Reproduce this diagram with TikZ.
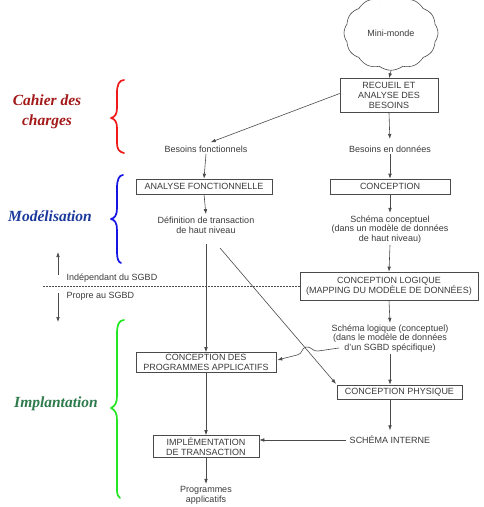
\documentclass[tikz,border=0pt]{standalone}
\usepackage{fontspec}
\setmainfont{Liberation Sans}
\newfontfamily\labelfont{Liberation Serif}
\usetikzlibrary{arrows.meta,shapes.symbols,calc}
\definecolor{txtgray}{HTML}{3A3A3A}
\definecolor{linegray}{HTML}{4A4A4A}
\definecolor{cahierred}{HTML}{A31818}
\definecolor{modblue}{HTML}{1C3A9C}
\definecolor{implgreen}{HTML}{2E7A4C}
\definecolor{bracered}{HTML}{F01818}
\definecolor{braceblue}{HTML}{1414E6}
\definecolor{bracegreen}{HTML}{22E622}
\tikzset{
  txt/.style={font=\fontsize{9}{9.7}\selectfont, text=txtgray, align=center, inner sep=1.5pt},
  box/.style={txt, draw=linegray, line width=0.6pt},
  arr/.style={-{Latex[length=5pt,width=3.6pt]}, draw=linegray, line width=0.6pt},
  plain/.style={draw=linegray, line width=0.6pt},
  phase/.style={font=\labelfont\bfseries\itshape\fontsize{15.5}{19.5}\selectfont, align=center, inner sep=0pt},
  brace/.style={line width=1.7pt, line cap=round, line join=round},
}
\begin{document}
\begin{tikzpicture}[x=1pt,y=-1pt]
\useasboundingbox (0,0) rectangle (483,507);
% cloud
\node[cloud, draw=linegray, line width=0.6pt, cloud puffs=12, cloud puff arc=75,
      minimum width=94pt, minimum height=60pt, txt] (cloud) at (391,33) {Mini-monde};
% boxes
\node[box, minimum width=98pt, minimum height=34pt] (recueil) at (389,95.5) {RECUEIL ET\\ANALYSE DES\\BESOINS};
\node[box, minimum width=136pt, minimum height=15pt] (analyse) at (204,186.5) {ANALYSE FONCTIONNELLE};
\node[box, minimum width=120pt, minimum height=15pt] (conception) at (390,186.5) {CONCEPTION};
\node[box, minimum width=178pt, minimum height=28pt] (logique) at (389,286) {CONCEPTION LOGIQUE\\(MAPPING DU MODÈLE DE DONNÉES)};
\node[box, minimum width=140pt, minimum height=20pt] (progs) at (206,362.5) {CONCEPTION DES\\PROGRAMMES APPLICATIFS};
\node[box, minimum width=125pt, minimum height=14pt] (physique) at (399.5,392) {CONCEPTION PHYSIQUE};
\node[box, minimum width=106pt, minimum height=22pt] (impl) at (206,446.5) {IMPLÉMENTATION\\DE TRANSACTION};
% text nodes
\node[txt] (bf) at (206,149) {Besoins fonctionnels};
\node[txt] (bd) at (390,149) {Besoins en données};
\node[txt] (def) at (206,225) {Définition de transaction\\de haut niveau};
\node[txt] (sc) at (390,229.5) {Schéma conceptuel\\(dans un modèle de données\\de haut niveau)};
\node[txt] (sl) at (390,338.5) {Schéma logique (conceptuel)\\(dans le modèle de données\\d'un SGBD spécifique)};
\node[txt] (si) at (390,440) {SCHÉMA INTERNE};
\node[txt] (pa) at (206,495.5) {Programmes\\applicatifs};
\node[txt, anchor=west] (indep) at (65,278) {Indépendant du SGBD};
\node[txt, anchor=west] (propre) at (65,296) {Propre au SGBD};
% connectors
\draw[arr] (cloud.south) -- (recueil.north);
\draw[arr, shorten >=5pt] (recueil.south) -- (bd.north);
\draw[arr, shorten >=5pt] ($(recueil.west)+(0,-2)$) -- (bf.north);
\draw[arr] (bf.south) -- (analyse.north);
\draw[arr] (bd.south) -- (conception.north);
\draw[arr, shorten >=1pt] (analyse.south) -- (def.north);
\draw[arr, shorten >=1pt] (conception.south) -- (sc.north);
\draw[arr, shorten <=9pt] (def.south) -- (progs.north);
\coordinate (dstart) at (220,248);
\draw[arr, shorten >=1pt] (dstart) -- (physique.north west);
\draw[arr] (sc.south) -- (logique.north);
\draw[arr] (logique.south) -- (sl.north);
\draw[arr] (sl.south) -- (sl.south |- physique.north);
\draw[arr, shorten >=4pt] (si.north |- physique.south) -- (si.north);
\draw[arr, shorten <=2pt] (si.west) -- (si.west -| impl.east);
\draw[arr] (progs.south) -- (impl.north);
\draw[arr, shorten >=1pt] (impl.south) -- (pa.north);
\coordinate (sqstart) at (339,348);
\draw[arr] (sqstart) -- (318,351) .. controls (313,352) and (311,346) .. (306,347)
   .. controls (301,348) and (303,354) .. (297,355) -- ($(progs.east)+(1,-2.5)$);
% SGBD separation
\coordinate (upA) at (58,275);
\coordinate (upB) at (58,252);
\coordinate (dnA) at (58,293);
\coordinate (dnB) at (58,322);
\coordinate (dashL) at (43,286.5);
\draw[arr] (upA) -- (upB);
\draw[arr] (dnA) -- (dnB);
\draw[plain, dashed, dash pattern=on 1.5pt off 1.5pt, line width=0.4pt] (dashL) -- (dashL -| logique.west);
% phase labels
\node[phase, text=cahierred] (cahier) at (47,112) {Cahier des\\charges};
\node[phase, text=modblue] (modl) at (50,216) {Modélisation};
\node[phase, text=implgreen] (impll) at (56,404) {Implantation};
% braces
\draw[brace, bracered] (124,80) .. controls (119,80) and (117,85) .. (117,93) -- (117,108)
  .. controls (117,114) and (115,117) .. (111,118) .. controls (115,119) and (117,122) .. (117,128)
  -- (117,143) .. controls (117,149) and (119,152) .. (124,153);
\draw[brace, braceblue] (123,175) .. controls (119,175) and (117,180) .. (117,188) -- (117,208)
  .. controls (117,215) and (115,218) .. (111,219) .. controls (115,220) and (117,223) .. (117,230)
  -- (117,252) .. controls (117,258) and (118,262) .. (121,263);
\draw[brace, bracegreen] (124,320) .. controls (119,320) and (117,325) .. (117,334) -- (117,396)
  .. controls (117,403) and (115,406) .. (111,408) .. controls (115,410) and (117,413) .. (117,420)
  -- (117,490) .. controls (117,494) and (118,497) .. (120,498);
\end{tikzpicture}
\end{document}
